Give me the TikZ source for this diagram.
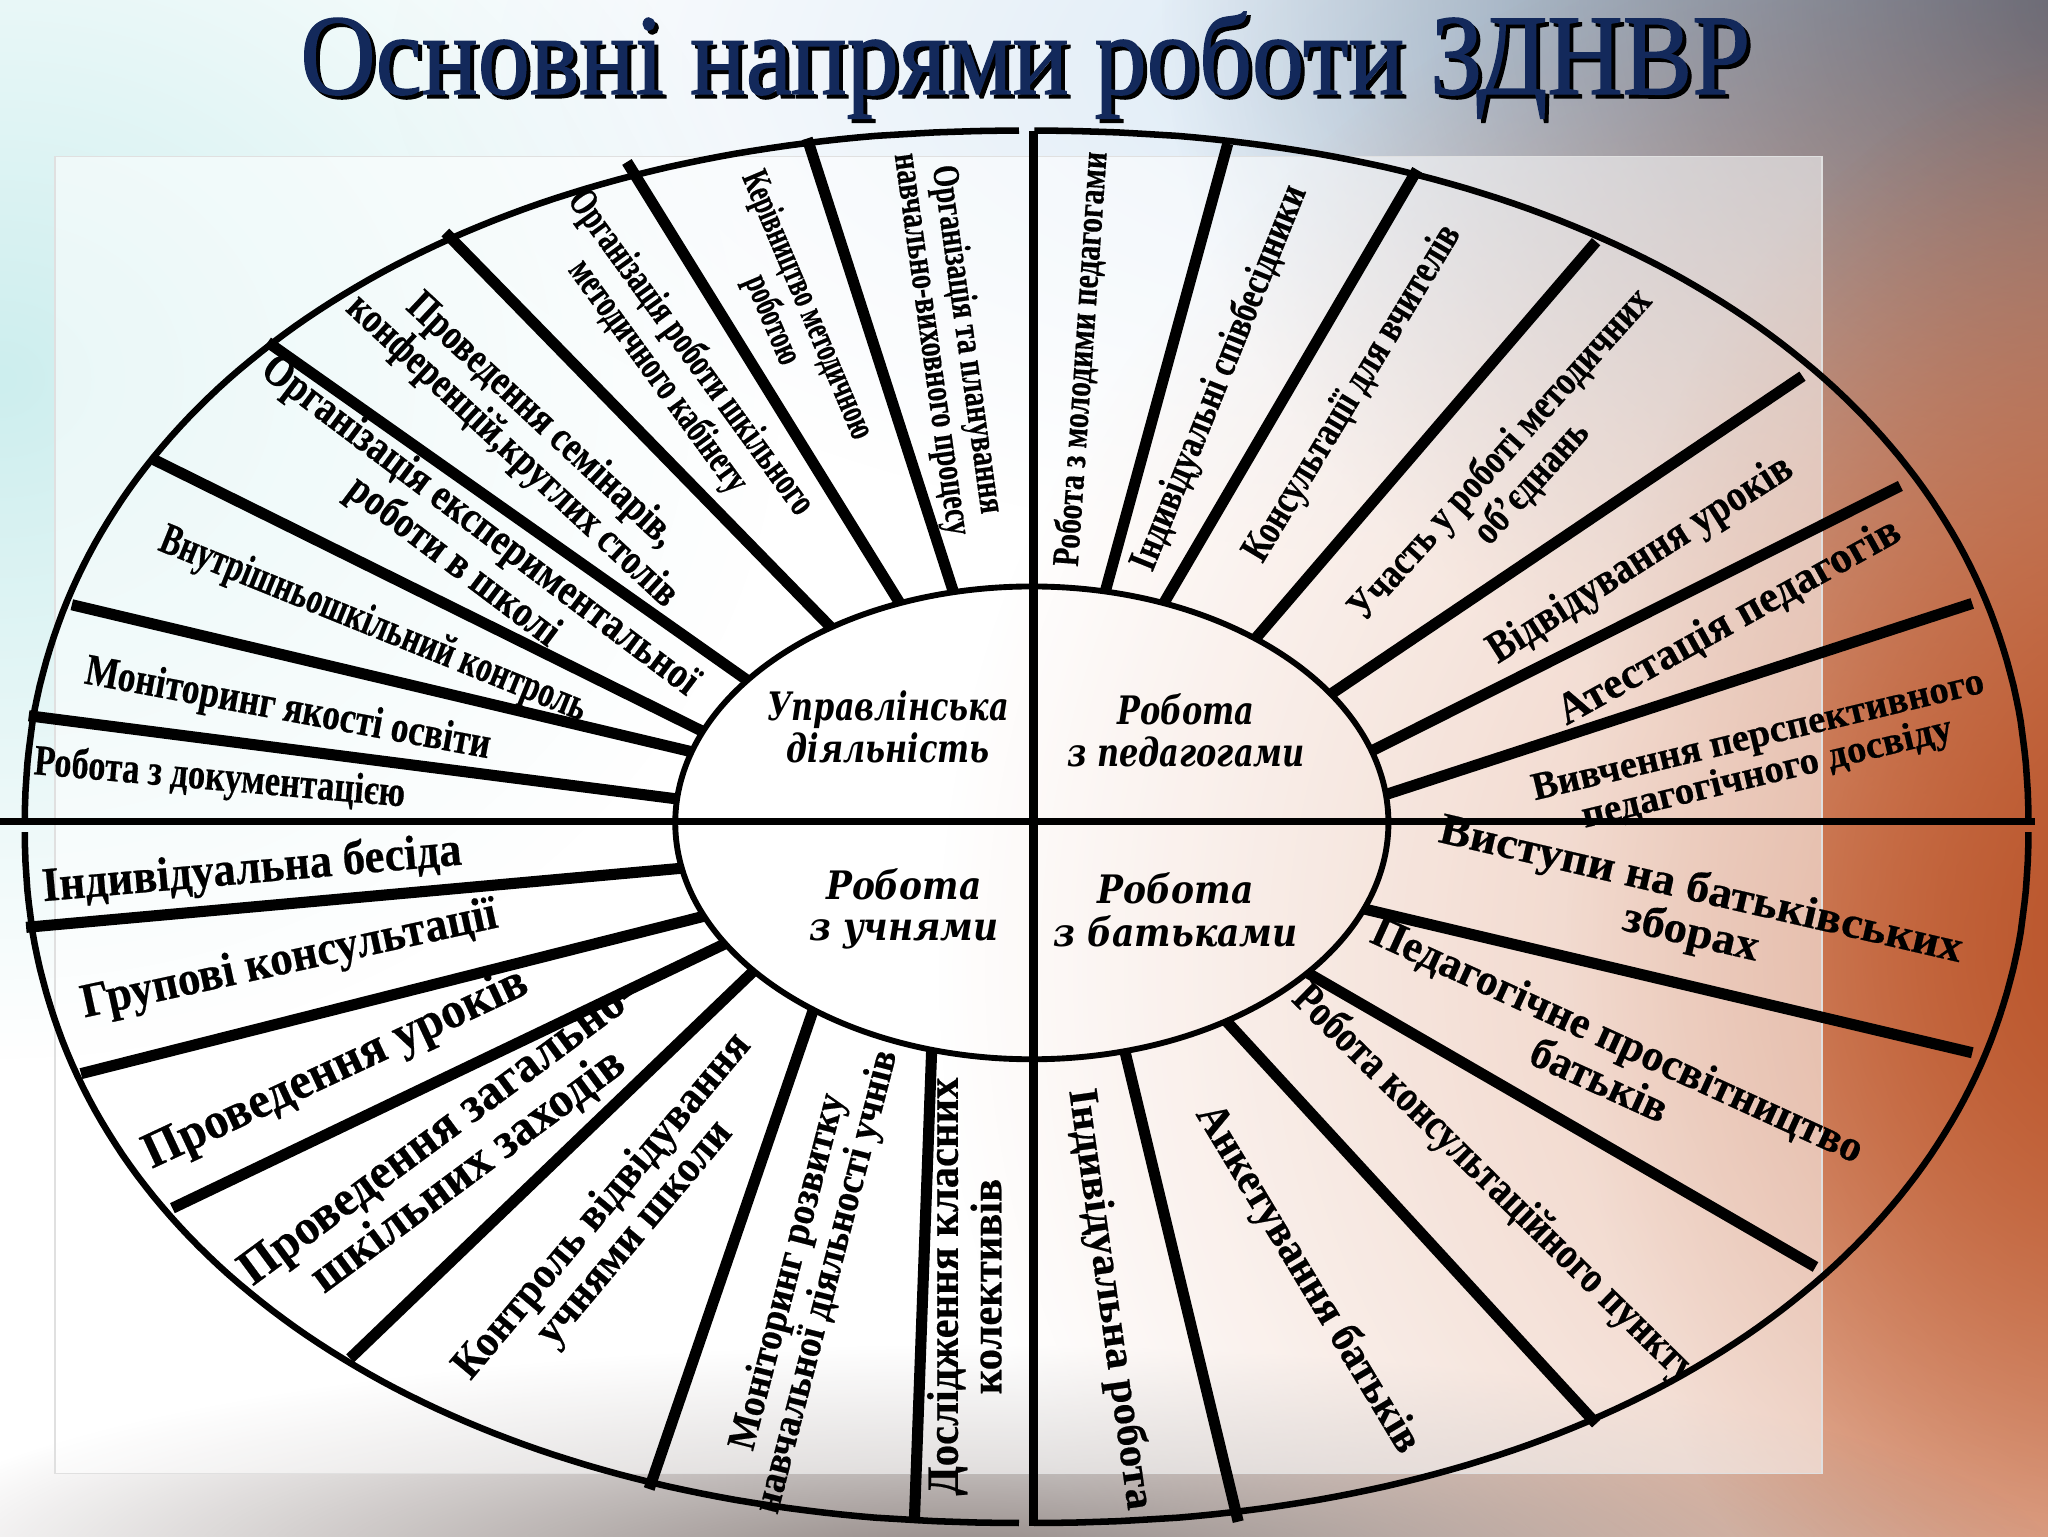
\documentclass[tikz,border=0pt]{standalone}
\usepackage{fontspec}
\setmainfont{Liberation Serif}
\newfontfamily\centrefont{DejaVu Serif}
\usepackage{graphicx}
\usetikzlibrary{fadings,calc}
\definecolor{navy}{HTML}{13295B}
\definecolor{cyanbg}{HTML}{CDEEEE}
\definecolor{lightbluebg}{HTML}{D6E6F4}
\definecolor{slatebg}{HTML}{56657A}
\definecolor{orangebg}{HTML}{CC6A3C}
\definecolor{orangedeep}{HTML}{B9552C}
\definecolor{bottomgray}{HTML}{8E8380}
\tikzfading[name=fuzzy, inner color=transparent!0, outer color=transparent!100]
\newcommand{\fitw}[3]{\resizebox{#1}{\height}{\fontsize{#2}{#2}\selectfont\bfseries\addfontfeatures{FakeBold=0.5}\renewcommand{\arraystretch}{0.95}\begin{tabular}{@{}c@{}}#3\end{tabular}}}
\newcommand{\fitc}[3]{\resizebox{#1}{\height}{\centrefont\fontsize{#2}{#2}\selectfont\bfseries\itshape\renewcommand{\arraystretch}{1.05}\begin{tabular}{@{}c@{}}#3\end{tabular}}}
\newcommand{\titletext}{\resizebox{1110pt}{\height}{\fontsize{88}{88}\selectfont\addfontfeatures{FakeBold=1.2}Основні напрями роботи ЗДНВР}}
\tikzset{
  lbl/.style={inner sep=0pt},
  spoke/.style={line width=8.5pt},
  outerarc/.style={line width=5pt},
  innerell/.style={line width=4.5pt},
  axisline/.style={line width=6pt},
}
\begin{document}
\begin{tikzpicture}[x=1pt,y=-1pt]
\useasboundingbox (0,0) rectangle (1568,1176);
% background
\fill[white] (0,0) rectangle (1568,1176);
\fill[cyanbg, path fading=fuzzy] (0,290) ellipse [x radius=600pt, y radius=520pt];
\fill[lightbluebg, path fading=fuzzy] (1200,50) ellipse [x radius=900pt, y radius=380pt];
\fill[slatebg, path fading=fuzzy] (1610,0) ellipse [x radius=720pt, y radius=620pt];
\fill[orangebg, path fading=fuzzy] (1620,740) ellipse [x radius=900pt, y radius=860pt];
\fill[orangedeep, path fading=fuzzy] (1620,700) ellipse [x radius=420pt, y radius=660pt];
\fill[bottomgray, path fading=fuzzy] (740,1200) ellipse [x radius=840pt, y radius=170pt];
\fill[white, opacity=0.55] (42,120) rectangle (1395,1128);
\draw[black!12, line width=1pt] (42,120) rectangle (1395,1128);

% title with drop shadow
\node[anchor=base, black, inner sep=0pt] (titleshadow) at (788,75) {\titletext};
\node[anchor=base, navy, inner sep=0pt] (title) at (785,72) {\titletext};

% labels: upper-left (управлінська діяльність)
\node[lbl,rotate=-5] (ul1) at (168,598) {\fitw{285pt}{33}{Робота з документацією}};
\node[lbl,rotate=-10.5] (ul2) at (220,545) {\fitw{315pt}{34}{Моніторинг якості освіти}};
\node[lbl,rotate=-22] (ul3) at (285,480) {\fitw{350pt}{34}{Внутрішньошкільний контроль}};
\node[lbl,rotate=-37] (ul4) at (356,418) {\fitw{410pt}{34}{Організація експериментальної\\роботи в школі}};
\node[lbl,rotate=-43] (ul5) at (402,335) {\fitw{335pt}{33}{Проведення семінарів,\\конференцій,круглих столів}};
\node[lbl,rotate=-54] (ul6) at (515,280) {\fitw{300pt}{31}{Організація роботи шкільного\\методичного кабінету}};
\node[lbl,rotate=-67] (ul7) at (603,240) {\fitw{220pt}{29}{Керівництво методичною\\роботою}};
\node[lbl,rotate=-82] (ul8) at (725,262) {\fitw{295pt}{29}{Організація та планування\\навчально-виховного процесу}};

% upper-right (робота з педагогами)
\node[lbl,rotate=86] (ur1) at (830,275) {\fitw{318pt}{29}{Робота з молодими педагогами}};
\node[lbl,rotate=68] (ur2) at (935,290) {\fitw{315pt}{31}{Індивідуальні співбесідники}};
\node[lbl,rotate=59] (ur3) at (1037,302) {\fitw{295pt}{32}{Консультації для вчителів}};
\node[lbl,rotate=48] (ur4) at (1162,360) {\fitw{330pt}{32}{Участь у роботі методичних\\об'єднань}};
\node[lbl,rotate=32.5] (ur5) at (1257,430) {\fitw{270pt}{34}{Відвідування уроків}};
\node[lbl,rotate=29] (ur6) at (1325,478) {\fitw{295pt}{34}{Атестація педагогів}};
\node[lbl,rotate=13.5] (ur7) at (1350,580) {\fitw{355pt}{30}{Вивчення перспективного\\педагогічного досвіду}};

% lower-right (робота з батьками)
\node[lbl,rotate=-13] (lr1) at (1298,700) {\fitw{410pt}{34}{Виступи на батьківських\\зборах}};
\node[lbl,rotate=-24.5] (lr2) at (1230,815) {\fitw{410pt}{34}{Педагогічне просвітництво\\батьків}};
\node[lbl,rotate=-44.5] (lr3) at (1143,908) {\fitw{420pt}{34}{Робота консультаційного пункту}};
\node[lbl,rotate=-59] (lr4) at (1000,980) {\fitw{305pt}{34}{Анкетування батьків}};
\node[lbl,rotate=-82] (lr5) at (848,995) {\fitw{325pt}{32}{Індивідуальна робота}};

% lower-left (робота з учнями)
\node[lbl,rotate=5] (ll1) at (193,668) {\fitw{322pt}{37}{Індивідуальна бесіда}};
\node[lbl,rotate=12.3] (ll2) at (222,737) {\fitw{325pt}{37}{Групові консультації}};
\node[lbl,rotate=25] (ll3) at (258,820) {\fitw{320pt}{39}{Проведення уроків}};
\node[lbl,rotate=36.5] (ll4) at (349,884) {\fitw{370pt}{38}{Проведення загально-\\шкільних заходів}};
\node[lbl,rotate=50] (ll5) at (475,935) {\fitw{335pt}{34}{Контроль відвідування\\учнями школи}};
\node[lbl,rotate=75.5] (ll6) at (620,978) {\fitw{365pt}{31}{Моніторинг розвитку\\навчальної діяльності учнів}};
\node[lbl,rotate=90] (ll7) at (743,985) {\fitw{320pt}{34}{Дослідження класних\\колективів}};

% centre labels
\node[lbl] (c1) at (680,561) {\fitc{185pt}{30}{Управлінська\\діяльність}};
\node[lbl] (c2) at (908,564) {\fitc{182pt}{30}{Робота\\з педагогами}};
\node[lbl] (c3) at (692,697) {\fitc{145pt}{30}{Робота\\з учнями}};
\node[lbl] (c4) at (900,701) {\fitc{187pt}{30}{Робота\\з батьками}};

% spoke end points
\coordinate (s1o) at (22,548);   \coordinate (s1i) at (513,611);
\coordinate (s2o) at (55,463);   \coordinate (s2i) at (523,574);
\coordinate (s3o) at (118,352);  \coordinate (s3i) at (532,557);
\coordinate (s4o) at (205,262);  \coordinate (s4i) at (561,513);
\coordinate (s5o) at (341,178);  \coordinate (s5i) at (628,472);
\coordinate (s6o) at (480,124);  \coordinate (s6i) at (681,449);
\coordinate (s7o) at (618,106);  \coordinate (s7i) at (727,444);
\coordinate (r1o) at (940,110);  \coordinate (r1i) at (847,450);
\coordinate (r2o) at (1085,130); \coordinate (r2i) at (895,455);
\coordinate (r3o) at (1222,185); \coordinate (r3i) at (968,481);
\coordinate (r4o) at (1380,288); \coordinate (r4i) at (1024,528);
\coordinate (r5o) at (1455,372); \coordinate (r5i) at (1052,574);
\coordinate (r6o) at (1510,462); \coordinate (r6i) at (1062,608);
\coordinate (b1o) at (1510,806); \coordinate (b1i) at (1049,697);
\coordinate (b2o) at (1390,970); \coordinate (b2i) at (1010,750);
\coordinate (b3o) at (1222,1090);\coordinate (b3i) at (940,783);
\coordinate (b4o) at (948,1165); \coordinate (b4i) at (862,808);
\coordinate (l1o) at (20,710);   \coordinate (l1i) at (519,665);
\coordinate (l2o) at (62,822);   \coordinate (l2i) at (533,703);
\coordinate (l3o) at (132,925);  \coordinate (l3i) at (550,725);
\coordinate (l4o) at (268,1040); \coordinate (l4i) at (567,753);
\coordinate (l5o) at (497,1140); \coordinate (l5i) at (620,781);
\coordinate (l6o) at (700,1166); \coordinate (l6i) at (713,812);

\begin{scope}[even odd rule]
  \clip (-20,-20) rectangle (1590,1200) (790,630) ellipse [x radius=273pt, y radius=181pt];
  \foreach \s in {s1,s2,s3,s4,s5,s6,s7,r1,r2,r3,r4,r5,r6,b1,b2,b3,b4,l1,l2,l3,l4,l5,l6} {
    \draw[spoke] (\s o) -- ($(\s o)!1.12!(\s i)$);
  }
\end{scope}

% outer ring (four quadrant arcs)
\draw[outerarc] plot[domain=0.3:89.7, samples=90] ({786-767*pow(cos(\x),0.93)}, {633-533*pow(sin(\x),0.93)});
\draw[outerarc] plot[domain=0.3:89.7, samples=90] ({786+767*pow(cos(\x),0.93)}, {633-533*pow(sin(\x),0.93)});
\draw[outerarc] plot[domain=0.3:89.7, samples=90] ({786-767*pow(cos(\x),0.93)}, {633+533*pow(sin(\x),0.93)});
\draw[outerarc] plot[domain=0.3:89.7, samples=90] ({786+767*pow(cos(\x),0.93)}, {633+533*pow(sin(\x),0.93)});

% inner ellipse and axes
\draw[innerell] (790,630) ellipse [x radius=273pt, y radius=181pt];
\coordinate (hl) at (0,629);
\coordinate (hr) at (1558,629);
\coordinate (vt) at (791,100);
\coordinate (vb) at (791,1168);
\draw[axisline] (hl) -- (hr);
\draw[line width=7pt] (vt) -- (vb);
\end{tikzpicture}
\end{document}
